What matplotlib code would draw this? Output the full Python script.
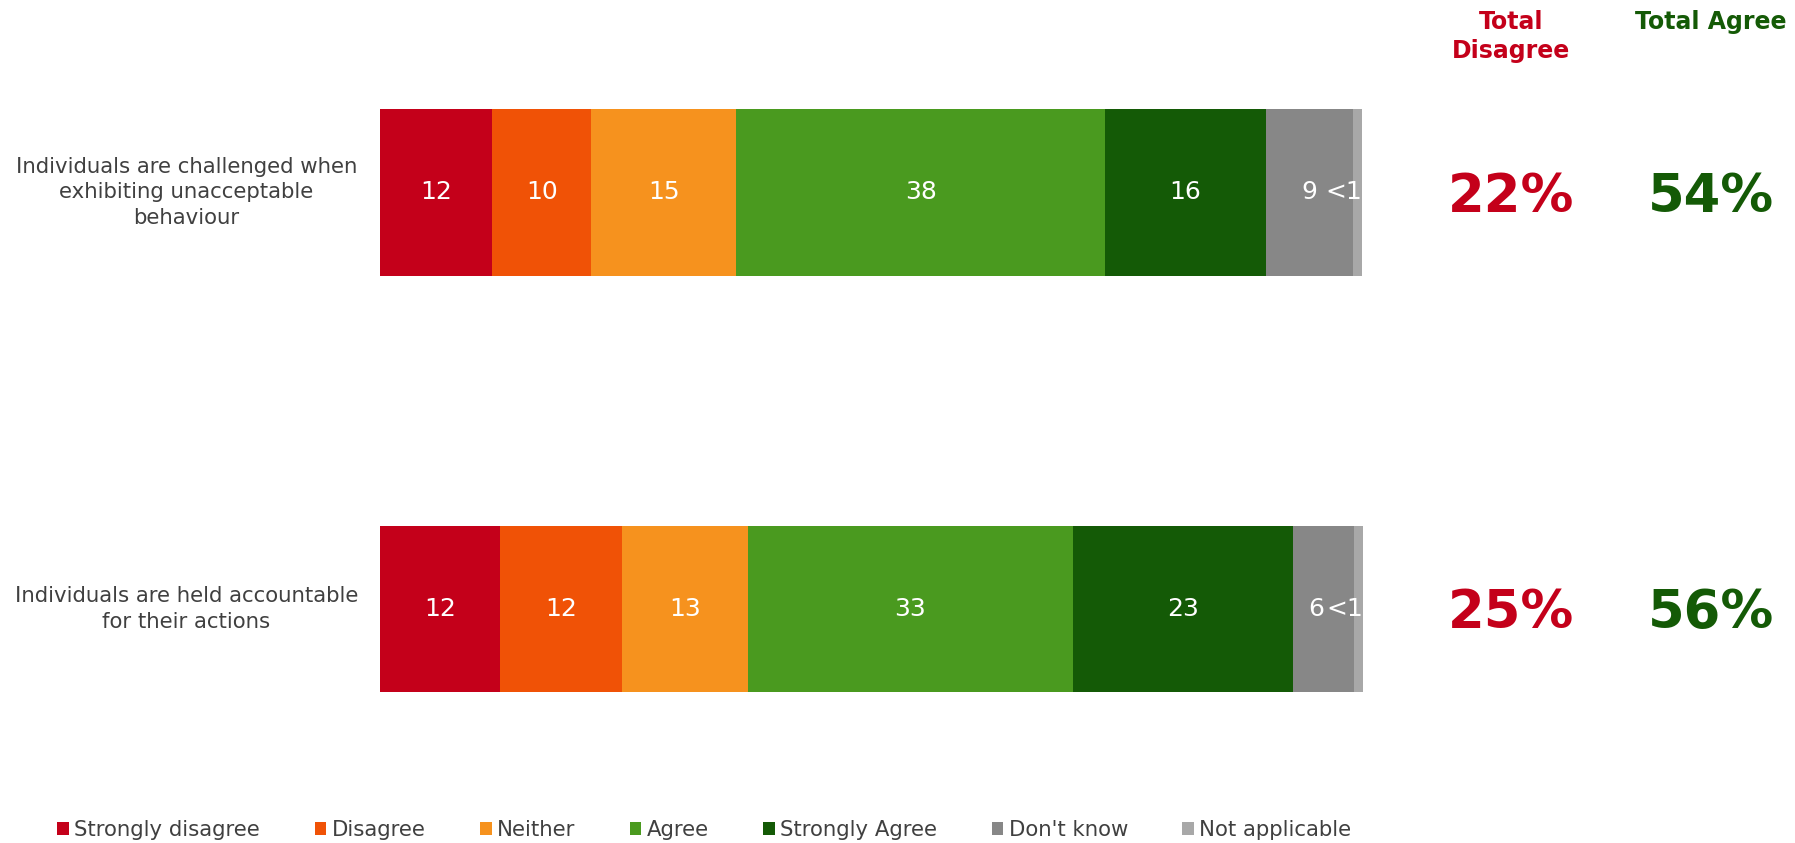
import numpy as np
import matplotlib
matplotlib.use("Agg")
import matplotlib.pyplot as plt
from matplotlib.patches import Patch

plt.rcParams.update({"font.family": "DejaVu Sans"})

STATEMENTS = ["Individuals are challenged when\nexhibiting unacceptable\nbehaviour",
              "Individuals are held accountable\nfor their actions"]
RESPONSES = ["Strongly disagree", "Disagree", "Neither", "Agree", "Strongly Agree",
             "Don't know", "Not applicable"]
COLORS = ["#C4001A", "#F05206", "#F6921E", "#4A9A1F", "#145A06", "#878787", "#A8A8A8"]
# segment widths as drawn (percent) and the printed labels
VALUES = [
    [11.4, 10.1, 14.7, 37.6, 16.3, 8.9, 0.9],
    [12.2, 12.4, 12.8, 33.1, 22.4, 6.2, 0.9],
]
LABELS = [
    ["12", "10", "15", "38", "16", "9", "<1"],
    ["12", "12", "13", "33", "23", "6", "<1"],
]
TOTAL_DISAGREE = [22, 25]
TOTAL_AGREE = [54, 56]

RED = "#C4001A"
GREEN = "#145A06"
GREY_TXT = "#404040"


def main():
    fig = plt.figure(figsize=(17.95, 8.43), dpi=100)
    ax = fig.add_axes([0.2117, 0.179, 0.5476, 0.6916])
    vals = np.array(VALUES)
    ypos = np.arange(len(STATEMENTS))
    totals = vals.sum(axis=1)
    left = np.zeros(len(STATEMENTS))
    last = len(RESPONSES) - 1
    for k, resp in enumerate(RESPONSES):
        w = vals[:, k]
        ax.barh(ypos, w, left=left, height=0.4, color=COLORS[k], linewidth=0)
        for i in range(len(STATEMENTS)):
            if k == last:
                # tiny segment: label sits right-aligned at the bar end
                ax.text(left[i] + w[i], ypos[i], LABELS[i][k], ha="right", va="center",
                        color="white", fontsize=18)
            else:
                x = left[i] + w[i] / 2
                if k == last - 1:
                    x = min(x, totals[i] - 4.8)  # keep clear of the "<1" label
                ax.text(x, ypos[i], LABELS[i][k], ha="center",
                        va="center", color="white", fontsize=18)
        left = left + w

    ax.set_xlim(0, totals.max())
    ax.set_ylim(1.2, -0.2)
    ax.axis("off")

    tr = ax.get_yaxis_transform()
    for i, s in enumerate(STATEMENTS):
        ax.text(-0.197, ypos[i], s, transform=tr, ha="center", va="center",
                multialignment="center", fontsize=15.3, color=GREY_TXT, linespacing=1.35)
        ax.text(1.1506, ypos[i] + 0.01, f"{TOTAL_DISAGREE[i]}%", transform=tr, ha="center",
                va="center", fontsize=38, fontweight="bold", color=RED)
        ax.text(1.354, ypos[i] + 0.01, f"{TOTAL_AGREE[i]}%", transform=tr, ha="center",
                va="center", fontsize=38, fontweight="bold", color=GREEN)

    ax.text(1.1506, 1.17, "Total\nDisagree", transform=ax.transAxes, ha="center",
            va="top", fontsize=17, fontweight="bold", color=RED, linespacing=1.25)
    ax.text(1.354, 1.17, "Total Agree", transform=ax.transAxes, ha="center",
            va="top", fontsize=17, fontweight="bold", color=GREEN)

    handles = [Patch(facecolor=c, edgecolor="none", label=r) for r, c in zip(RESPONSES, COLORS)]
    leg = fig.legend(handles=handles, loc="center left", bbox_to_anchor=(0.032, 0.0154),
                     ncol=7, frameon=False, fontsize=15.3, handlelength=0.55,
                     handleheight=0.55, handletextpad=0.25, columnspacing=2.56,
                     borderpad=0, borderaxespad=0)
    for t in leg.get_texts():
        t.set_color(GREY_TXT)

    fig.savefig("out.png", dpi=100)
    plt.close(fig)


if __name__ == "__main__":
    main()
